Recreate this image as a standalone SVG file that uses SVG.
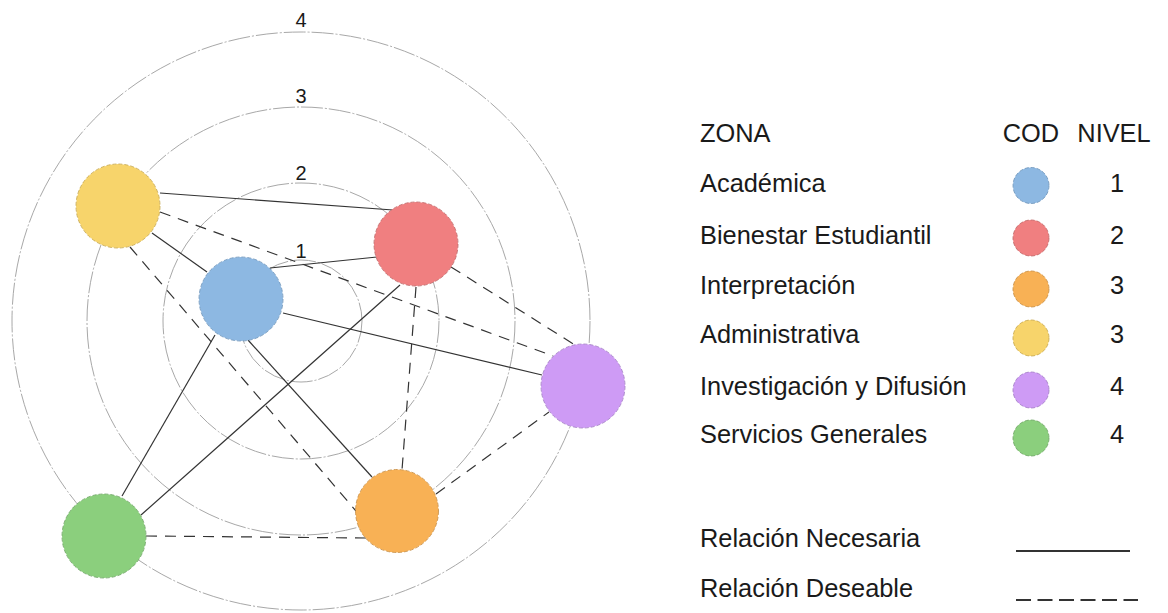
<svg xmlns="http://www.w3.org/2000/svg" width="1168" height="613" viewBox="0 0 1168 613">
<style>
  .ring { fill: none; stroke: #a8a8a8; stroke-width: 1; stroke-dasharray: 22 2 2 2; }
  .lvl { font-family: "Liberation Sans", Arial, sans-serif; font-size: 20px; fill: #1a1a1a; text-anchor: middle; }
  .solid { fill: none; stroke: #333; stroke-width: 1.2; }
  .dash { fill: none; stroke: #333; stroke-width: 1.2; stroke-dasharray: 11 8; }
  .node { stroke-width: 0.8; stroke-dasharray: 4 2; }
  .t { font-family: "Liberation Sans", Arial, sans-serif; font-size: 25.4px; fill: #1a1a1a; }
  .c { text-anchor: middle; }
  .yel { fill: #F7D46B; stroke: #C4A44A; }
  .red { fill: #F07F80; stroke: #BC6465; }
  .blu { fill: #8DB8E2; stroke: #6D93B8; }
  .pur { fill: #CE9BF5; stroke: #A07BC2; }
  .ora { fill: #F8B155; stroke: #C48B42; }
  .grn { fill: #8BCF7D; stroke: #6CA262; }
</style>
<rect width="1168" height="613" fill="#ffffff"/>
<g id="rings">
  <circle class="ring" cx="301" cy="321" r="289"/>
  <circle class="ring" cx="301" cy="321" r="214"/>
  <circle class="ring" cx="301" cy="321" r="138"/>
  <circle class="ring" cx="301" cy="321" r="61"/>
  <text class="lvl" x="301" y="27">4</text>
  <text class="lvl" x="301" y="103">3</text>
  <text class="lvl" x="301" y="180">2</text>
  <text class="lvl" x="301" y="258">1</text>
</g>
<g id="connectors">
  <line class="solid" x1="160" y1="193" x2="393" y2="210"/>
  <line class="solid" x1="152" y1="233" x2="207" y2="272"/>
  <line class="solid" x1="270" y1="268" x2="377" y2="257"/>
  <line class="solid" x1="283" y1="313" x2="542" y2="375"/>
  <line class="solid" x1="248" y1="340" x2="372" y2="477"/>
  <line class="solid" x1="215" y1="335" x2="122" y2="496"/>
  <line class="solid" x1="400" y1="285" x2="141" y2="515"/>
  <line class="dash" x1="160" y1="212" x2="553" y2="356"/>
  <line class="dash" x1="451" y1="267" x2="575" y2="345"/>
  <line class="dash" x1="416" y1="287" x2="402" y2="470"/>
  <line class="dash" x1="130" y1="247" x2="356" y2="511"/>
  <line class="dash" x1="436" y1="494" x2="549" y2="412"/>
  <line class="dash" x1="146" y1="536" x2="366" y2="538"/>
</g>
<g id="node-administrativa"><circle class="node yel" cx="118" cy="206" r="42"/></g>
<g id="node-bienestar"><circle class="node red" cx="416" cy="244" r="42"/></g>
<g id="node-academica"><circle class="node blu" cx="241" cy="299" r="42"/></g>
<g id="node-investigacion"><circle class="node pur" cx="583" cy="386" r="42"/></g>
<g id="node-interpretacion"><circle class="node ora" cx="397" cy="511" r="41.5"/></g>
<g id="node-servicios"><circle class="node grn" cx="104" cy="536" r="42"/></g>
<g id="legend">
  <text class="t" x="700" y="141.5">ZONA</text>
  <text class="t c" x="1031" y="141.5">COD</text>
  <text class="t c" x="1114" y="141.5">NIVEL</text>
  <text class="t" x="700" y="192">Académica</text>
  <text class="t" x="700" y="244">Bienestar Estudiantil</text>
  <text class="t" x="700" y="294">Interpretación</text>
  <text class="t" x="700" y="343">Administrativa</text>
  <text class="t" x="700" y="395">Investigación y Difusión</text>
  <text class="t" x="700" y="443">Servicios Generales</text>
  <circle class="node blu" cx="1031" cy="185.5" r="18"/>
  <circle class="node red" cx="1031" cy="238" r="18"/>
  <circle class="node ora" cx="1031" cy="289" r="18"/>
  <circle class="node yel" cx="1031" cy="338" r="18"/>
  <circle class="node pur" cx="1031" cy="390" r="18"/>
  <circle class="node grn" cx="1031" cy="438" r="18"/>
  <text class="t c" x="1117" y="192">1</text>
  <text class="t c" x="1117" y="244">2</text>
  <text class="t c" x="1117" y="294">3</text>
  <text class="t c" x="1117" y="343">3</text>
  <text class="t c" x="1117" y="395">4</text>
  <text class="t c" x="1117" y="443">4</text>
  <text class="t" x="700" y="547">Relación Necesaria</text>
  <text class="t" x="700" y="597">Relación Deseable</text>
  <line x1="1016" y1="551" x2="1130" y2="551" stroke="#333" stroke-width="2"/>
  <line x1="1016" y1="600" x2="1138" y2="600" stroke="#333" stroke-width="2" stroke-dasharray="15 6.5"/>
</g>
</svg>
